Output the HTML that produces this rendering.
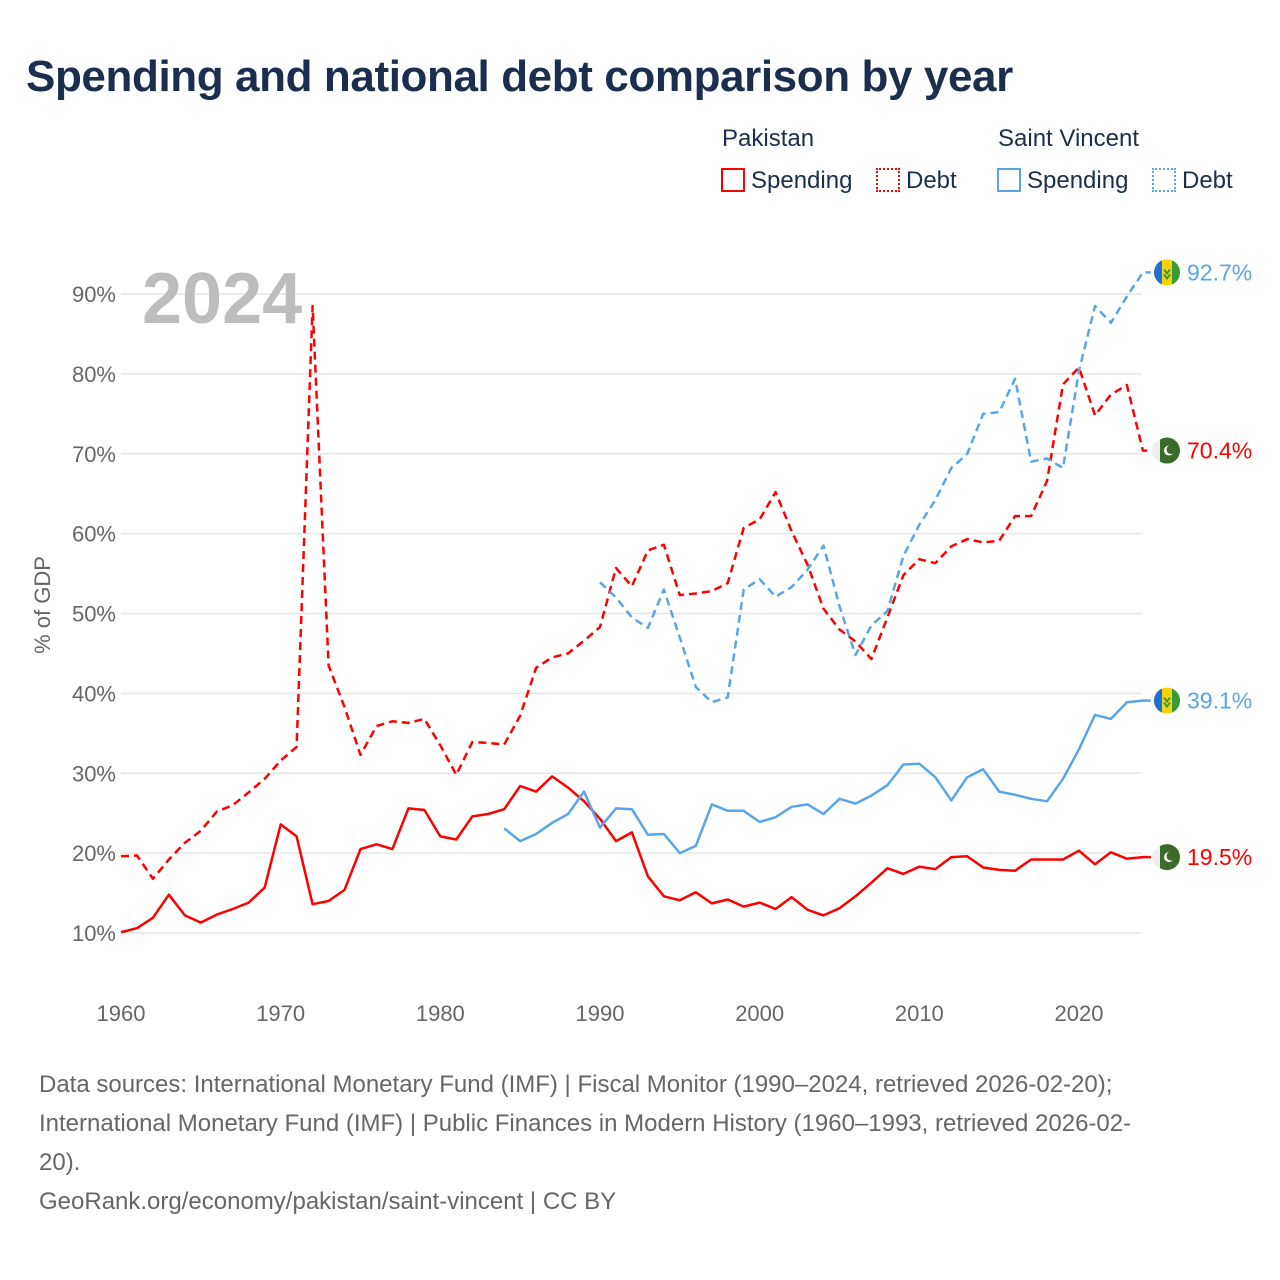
<!DOCTYPE html>
<html><head><meta charset="utf-8">
<style>
body{margin:0;background:#fff;font-family:"Liberation Sans",sans-serif;}
#wrap{position:relative;width:1280px;height:1280px;overflow:hidden;}
.t{position:absolute;white-space:nowrap;}
</style></head><body>
<div id="wrap">
<div class="t" style="left:26px;top:52px;font-size:44px;font-weight:bold;color:#1b2e4d;letter-spacing:-0.4px">Spending and national debt comparison by year</div>
<div class="t" style="left:722px;top:125px;font-size:24px;color:#1b2e4d">Pakistan</div>
<div class="t" style="left:998px;top:125px;font-size:24px;color:#1b2e4d">Saint Vincent</div>
<div class="t" style="left:721px;top:167px;font-size:24px;color:#1b2e4d"><span style="display:inline-block;width:20px;height:20px;border:2px solid #f00;vertical-align:-4px;margin-right:6px"></span>Spending</div>
<div class="t" style="left:876px;top:167px;font-size:24px;color:#1b2e4d"><span style="display:inline-block;width:20px;height:20px;border:2px dotted #f00;vertical-align:-4px;margin-right:6px"></span>Debt</div>
<div class="t" style="left:997px;top:167px;font-size:24px;color:#1b2e4d"><span style="display:inline-block;width:20px;height:20px;border:2px solid #5aa5e8;vertical-align:-4px;margin-right:6px"></span>Spending</div>
<div class="t" style="left:1152px;top:167px;font-size:24px;color:#1b2e4d"><span style="display:inline-block;width:20px;height:20px;border:2px dotted #5aa5e8;vertical-align:-4px;margin-right:6px"></span>Debt</div>
<svg id="chart" width="1280" height="1280" style="position:absolute;left:0;top:0"></svg>
<div class="t" style="left:39px;top:1065px;font-size:24px;line-height:39px;color:#666">Data sources: International Monetary Fund (IMF) | Fiscal Monitor (1990–2024, retrieved 2026-02-20);<br>International Monetary Fund (IMF) | Public Finances in Modern History (1960–1993, retrieved 2026-02-<br>20).<br>GeoRank.org/economy/pakistan/saint-vincent | CC BY</div>
</div>
<script>
const yTicks=[10,20,30,40,50,60,70,80,90];
const xTicks=[1960,1970,1980,1990,2000,2010,2020];
const pakDebtStart=1960;
const pakDebt=[19.6,19.7,16.8,19.2,21.3,22.8,25.2,26.0,27.6,29.3,31.6,33.3,88.5,43.5,38.3,32.3,35.9,36.5,36.3,36.8,33.5,29.8,33.9,33.8,33.6,37.2,43.2,44.5,45.0,46.6,48.3,55.7,53.4,57.9,58.6,52.3,52.5,52.8,53.8,60.7,61.8,65.2,60.3,56.1,50.6,48.0,46.5,44.3,49.5,54.8,56.8,56.3,58.4,59.3,58.9,59.1,62.2,62.2,66.6,78.7,80.8,74.8,77.4,78.6,70.4];
const pakSpendStart=1960;
const pakSpend=[10.1,10.6,11.9,14.8,12.2,11.3,12.3,13.0,13.8,15.7,23.6,22.1,13.6,14.0,15.4,20.5,21.1,20.5,25.6,25.4,22.1,21.7,24.6,24.9,25.5,28.4,27.7,29.6,28.2,26.5,24.3,21.5,22.6,17.1,14.6,14.1,15.1,13.7,14.2,13.3,13.8,13.0,14.5,12.9,12.2,13.1,14.6,16.3,18.1,17.4,18.3,18.0,19.5,19.6,18.2,17.9,17.8,19.2,19.2,19.2,20.3,18.6,20.1,19.3,19.5];
const svgSpendStart=1984;
const svgSpend=[23.1,21.5,22.4,23.8,24.9,27.7,23.2,25.6,25.5,22.3,22.4,20.0,20.9,26.1,25.3,25.3,23.9,24.5,25.8,26.1,24.9,26.8,26.2,27.2,28.5,31.1,31.2,29.5,26.6,29.5,30.5,27.7,27.3,26.8,26.5,29.3,33.0,37.3,36.8,38.9,39.1];
const svgDebtStart=1990;
const svgDebt=[53.9,52.0,49.5,48.2,53.0,47.0,40.8,38.9,39.5,53.0,54.3,52.1,53.3,55.5,58.5,50.9,44.8,48.5,50.3,57.2,61.1,64.2,68.2,70.0,75.0,75.2,79.4,69.0,69.4,68.2,80.4,88.5,86.4,89.7,92.7];

const NS='http://www.w3.org/2000/svg';
const svg=document.getElementById('chart');
const X=yr=>121+(yr-1960)*(1079-121)/60;
const Y=v=>933-(v-10)*(933-294)/80;
function mk(tag,attrs,parent){const e=document.createElementNS(NS,tag);for(const k in attrs)e.setAttribute(k,attrs[k]);(parent||svg).appendChild(e);return e;}
yTicks.forEach(v=>{
  const l=mk('line',{x1:121,x2:1142,y1:Y(v),y2:Y(v),stroke:'#e6e6e6','stroke-width':1.5});
  
  
  const t=mk('text',{x:116,y:Y(v)+8,'text-anchor':'end','font-size':22,fill:'#666','font-family':'Liberation Sans, sans-serif'});
  t.textContent=v+'%';
  
  
});
xTicks.forEach(yr=>{
  const t=mk('text',{x:X(yr),y:1021,'text-anchor':'middle','font-size':22,fill:'#666','font-family':'Liberation Sans, sans-serif'});
  t.textContent=yr;
  
  
});
const yt=mk('text',{x:0,y:0,transform:'translate(50,605) rotate(-90)','text-anchor':'middle','font-size':22,fill:'#666','font-family':'Liberation Sans, sans-serif'});
yt.textContent='% of GDP';


const yr=mk('text',{x:142,y:323,'font-size':72,'font-weight':'bold',fill:'#bdbdbd','font-family':'Liberation Sans, sans-serif'});
yr.textContent='2024';


function series(arr,start,color,dash,name){
  let d=arr.map((v,i)=>(i?'L':'M')+X(start+i).toFixed(1)+','+Y(v).toFixed(1)).join('');
  d+='L'+(X(start+arr.length-1)+8).toFixed(1)+','+Y(arr[arr.length-1]).toFixed(1);
  const p=mk('path',{d:d,fill:'none',stroke:color,'stroke-width':2.5,'stroke-linejoin':'round'});
  if(dash)p.setAttribute('stroke-dasharray','8,5');
  
  
}
series(pakDebt,pakDebtStart,'#ff0000',true,'pakistan-debt-line');
series(pakSpend,pakSpendStart,'#ff0000',false,'pakistan-spending-line');
series(svgSpend,svgSpendStart,'#5aa5e8',false,'svg-spending-line');
series(svgDebt,svgDebtStart,'#5aa5e8',true,'svg-debt-line');
function endLabel(v,color,flag,name){
  const g=mk('g',{});
  
  
  const cx=1167,cy=Y(v);
  if(flag==='svg'){
    mk('circle',{cx:cx,cy:cy,r:13,fill:'#f5d20a'},g);
    mk('path',{d:`M${cx-5},${cy-12} A13,13 0 0 0 ${cx-5},${cy+12} Z`,fill:'#1e6fd8'},g);
    mk('path',{d:`M${cx+5},${cy-12} A13,13 0 0 1 ${cx+5},${cy+12} Z`,fill:'#3a9a3a'},g);
    mk('path',{d:`M${cx-3},${cy-3} l3,4 l3,-4 M${cx-3},${cy+2} l3,4 l3,-4`,stroke:'#3a9a3a','stroke-width':2,fill:'none'},g);
  } else {
    mk('circle',{cx:cx,cy:cy,r:13,fill:'#3b6a2a'},g);
    mk('path',{d:`M${cx-13},${cy-7} A13,13 0 0 0 ${cx-13},${cy+7} L${cx-7},${cy+11} L${cx-7},${cy-11}Z`,fill:'#eee'},g);
    mk('circle',{cx:cx+2,cy:cy,r:5,fill:'#fff'},g);
    mk('circle',{cx:cx+4,cy:cy-1,r:4.5,fill:'#3b6a2a'},g);
  }
  const t=mk('text',{x:1187,y:cy+8,'font-size':23,fill:color,'font-family':'Liberation Sans, sans-serif'},g);
  t.textContent=v.toFixed(1)+'%';
}
endLabel(svgDebt[svgDebt.length-1],'#5aa5e8','svg','end-label-svg-debt');
endLabel(pakDebt[pakDebt.length-1],'#ff0000','pak','end-label-pak-debt');
endLabel(svgSpend[svgSpend.length-1],'#5aa5e8','svg','end-label-svg-spending');
endLabel(pakSpend[pakSpend.length-1],'#ff0000','pak','end-label-pak-spending');
</script>
</body></html>
